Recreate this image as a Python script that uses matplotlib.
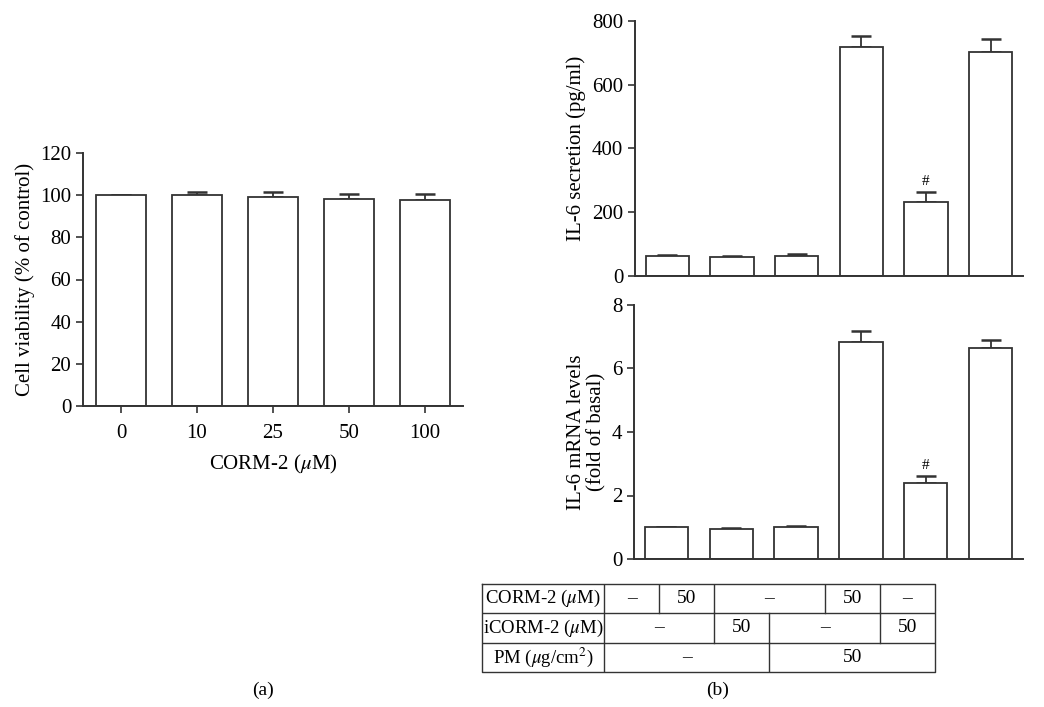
import numpy as np
import matplotlib
matplotlib.use('Agg')
import matplotlib.pyplot as plt

plt.rcParams['font.family'] = ['Liberation Serif', 'DejaVu Serif']
plt.rcParams['mathtext.fontset'] = 'stix'
plt.rcParams['font.size'] = 15

# (a) viabilidad celular
dosis = ['0', '10', '25', '50', '100']
viabilidad = [100, 100.2, 99.3, 98.3, 97.7]
viabilidad_err = [0, 1.4, 2.1, 2.3, 2.8]

# (b) IL-6
secrecion = [64, 61, 64, 718, 232, 704]
secrecion_err = [2, 2, 4, 34, 33, 38]
mrna = [1.0, 0.96, 1.0, 6.83, 2.39, 6.66]
mrna_err = [0, 0.03, 0.03, 0.35, 0.23, 0.25]
marca = ['', '', '', '', '#', '']

# tabla de condiciones
filas_tabla = [r'CORM-2 ($\mu$M)', r'iCORM-2 ($\mu$M)', r'PM ($\mu$g/cm$^2$)']
corm = ['–', '50', '–', '–', '50', '–']
icorm = ['–', '–', '50', '–', '–', '50']
pm = ['–', '–', '–', '50', '50', '50']

W, H = 1044, 707
fig = plt.figure(figsize=(W / 100, H / 100), dpi=100)
borde = '#333333'


def ejes(x0, y0, x1, y1):
    # coordenadas en pixeles (origen arriba a la izquierda)
    return fig.add_axes([x0 / W, 1 - y1 / H, (x1 - x0) / W, (y1 - y0) / H])


def estilo(ax):
    for s in ['top', 'right']:
        ax.spines[s].set_visible(False)
    for s in ['left', 'bottom']:
        ax.spines[s].set_linewidth(1.4)
        ax.spines[s].set_color(borde)
    ax.tick_params(width=1.2, color=borde, length=5, labelsize=15)


def barras(ax, vals, errs, ancho):
    x = np.arange(len(vals))
    ax.bar(x, vals, width=ancho, color='white', edgecolor=borde, linewidth=1.3, zorder=2)
    ax.errorbar(x, vals, yerr=[np.zeros(len(vals)), errs], fmt='none',
                ecolor=borde, elinewidth=1.3, capsize=7, capthick=1.8, zorder=1)
    return x


# ---- panel (a)
axa = ejes(83, 153, 463, 406)
estilo(axa)
x = barras(axa, viabilidad, viabilidad_err, 0.66)
axa.set_xlim(-0.5, len(dosis) - 0.5)
axa.set_ylim(0, 120)
axa.set_yticks(np.arange(0, 121, 20))
axa.set_xticks(x)
axa.set_xticklabels(dosis)
axa.tick_params(axis='x', pad=8)
axa.set_ylabel('Cell viability (% of control)', fontsize=15)
axa.set_xlabel(r'CORM-2 ($\mu$M)', fontsize=15, labelpad=7)

# ---- panel (b) arriba
axb1 = ejes(635, 21, 1023, 276)
estilo(axb1)
x = barras(axb1, secrecion, secrecion_err, 0.67)
axb1.set_xlim(-0.5, len(secrecion) - 0.5)
axb1.set_ylim(0, 800)
axb1.set_yticks(np.arange(0, 801, 200))
axb1.set_xticks([])
axb1.set_ylabel('IL-6 secretion (pg/ml)', fontsize=15)
for xi, v, e, m in zip(x, secrecion, secrecion_err, marca):
    if m:
        axb1.text(xi, v + e + 12, m, ha='center', va='bottom', fontsize=11)

# ---- panel (b) abajo
axb2 = ejes(634, 305, 1023, 559)
estilo(axb2)
x = barras(axb2, mrna, mrna_err, 0.67)
axb2.set_xlim(-0.5, len(mrna) - 0.5)
axb2.set_ylim(0, 8)
axb2.set_yticks(np.arange(0, 9, 2))
axb2.set_xticks([])
axb2.set_ylabel('IL-6 mRNA levels\n(fold of basal)', fontsize=15, linespacing=1.05)
for xi, v, e, m in zip(x, mrna, mrna_err, marca):
    if m:
        axb2.text(xi, v + e + 0.12, m, ha='center', va='bottom', fontsize=11)

# ---- tabla
axt = ejes(482, 584, 935, 672)
axt.axis('off')
col_etq = 2.21
ncol = len(corm)
axt.set_xlim(-col_etq, ncol)
axt.set_ylim(len(filas_tabla), 0)
lw = 1.0
axt.plot([-col_etq, ncol, ncol, -col_etq, -col_etq], [0, 0, 3, 3, 0], color=borde, lw=lw, clip_on=False)
axt.plot([0, 0], [0, 3], color=borde, lw=lw)
for r in [1, 2]:
    axt.plot([-col_etq, ncol], [r, r], color=borde, lw=lw)
for r, (nombre, fila) in enumerate(zip(filas_tabla, [corm, icorm, pm])):
    axt.text(-col_etq / 2, r + 0.5, nombre, ha='center', va='center', fontsize=13.5)
    # agrupar valores consecutivos iguales
    ini = 0
    for j in range(1, ncol + 1):
        if j == ncol or fila[j] != fila[ini]:
            axt.text((ini + j) / 2, r + 0.5, fila[ini], ha='center', va='center', fontsize=14)
            if j < ncol:
                axt.plot([j, j], [r, r + 1], color=borde, lw=lw)
            ini = j

fig.text(263 / W, 1 - 690 / H, '(a)', ha='center', va='center', fontsize=14)
fig.text(718 / W, 1 - 690 / H, '(b)', ha='center', va='center', fontsize=14)

fig.savefig('out.png', dpi=100)
